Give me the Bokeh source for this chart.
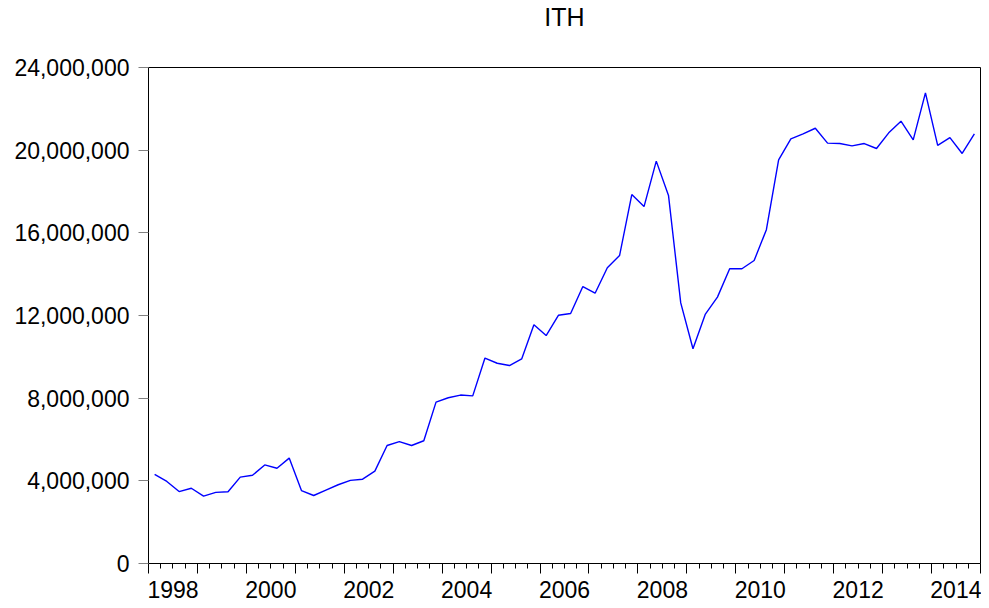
from bokeh.plotting import figure
from bokeh.models import (Range1d, FixedTicker, LinearAxis, NumeralTickFormatter)
from bokeh.embed import file_html
from bokeh.resources import INLINE

# Quarterly periods 1998Q1 .. 2014Q4
periods = [f"{y}Q{q}" for y in range(1998, 2015) for q in range(1, 5)]

# ITH values
ith = [
    4310000, 3970000, 3480000, 3640000, 3260000, 3440000, 3470000, 4180000,
    4270000, 4770000, 4610000, 5100000, 3530000, 3290000, 3550000, 3810000,
    4020000, 4080000, 4470000, 5710000, 5900000, 5710000, 5940000, 7810000,
    8020000, 8150000, 8110000, 9940000, 9690000, 9580000, 9900000, 11550000,
    11030000, 12010000, 12100000, 13400000, 13080000, 14310000, 14900000, 17850000,
    17270000, 19470000, 17810000, 12610000, 10390000, 12050000, 12890000, 14260000,
    14260000, 14660000, 16150000, 19530000, 20550000, 20790000, 21060000, 20340000,
    20320000, 20210000, 20320000, 20080000, 20840000, 21400000, 20500000, 22770000,
    20230000, 20610000, 19840000, 20790000,
]

y_ticks = [0, 4000000, 8000000, 12000000, 16000000, 20000000, 24000000]
year_ticks = list(range(1998, 2016))
label_years = list(range(1998, 2015, 2))

# x position: middle of each quarter interval
xs = [int(p[:4]) + (int(p[5]) - 1) / 4 + 0.125 for p in periods]

FONT = "Liberation Sans"

p = figure(width=981, height=608, output_backend="svg", toolbar_location=None,
           x_range=Range1d(1998, 2015), y_range=Range1d(0, 24000000),
           x_axis_type=None, y_axis_type=None,
           min_border_left=148, min_border_right=1,
           min_border_top=67, min_border_bottom=45)

p.title.text = "ITH"
p.title.align = "center"
p.title.text_font = FONT
p.title.text_font_size = "25px"
p.title.text_font_style = "normal"
p.title.text_color = "black"
p.title.standoff = 0

p.outline_line_color = "black"
p.outline_line_width = 1
p.xgrid.visible = False
p.ygrid.visible = False
p.background_fill_color = "white"
p.border_fill_color = "white"

# invisible spacer between the frame and the title
spacer = LinearAxis(ticker=FixedTicker(ticks=[2006], minor_ticks=[]))
spacer.axis_line_color = None
spacer.major_tick_line_color = None
spacer.minor_tick_line_color = None
spacer.major_tick_out = 37
spacer.major_tick_in = 0
spacer.minor_tick_out = 0
spacer.major_label_text_font_size = "0px"
spacer.major_label_text_color = None
spacer.major_label_standoff = 0
p.add_layout(spacer, "above")

# Y axis
yax = LinearAxis(ticker=FixedTicker(ticks=y_ticks),
                 formatter=NumeralTickFormatter(format="0,0"))
yax.major_tick_out = 10
yax.major_tick_in = 0
yax.minor_tick_out = 0
yax.minor_tick_in = 0
yax.major_tick_line_color = "#808080"
yax.axis_line_color = "black"
yax.major_label_standoff = 9
yax.major_label_text_font = FONT
yax.major_label_text_font_size = "23px"
yax.major_label_text_color = "black"
p.add_layout(yax, "left")

# X axis: year ticks (long) and quarter ticks (short), labels not drawn
quarter_ticks = [y + q / 4 for y in range(1998, 2015) for q in range(1, 4)]
xax = LinearAxis(ticker=FixedTicker(ticks=year_ticks, minor_ticks=quarter_ticks))
xax.major_tick_out = 10
xax.major_tick_in = 0
xax.minor_tick_out = 5
xax.minor_tick_in = 0
xax.major_tick_line_color = "black"
xax.minor_tick_line_color = "black"
xax.axis_line_color = "black"
xax.major_label_text_font_size = "0px"
xax.major_label_text_color = None
xax.major_label_standoff = 0
p.add_layout(xax, "below")

# X axis labels centred in the year intervals
lab_pos = [y + 0.5 for y in label_years]
xlab = LinearAxis(ticker=FixedTicker(ticks=lab_pos, minor_ticks=[]))
xlab.major_label_overrides = {y + 0.5: str(y) for y in label_years}
xlab.axis_line_color = None
xlab.major_tick_line_color = None
xlab.minor_tick_line_color = None
xlab.major_tick_out = 0
xlab.major_tick_in = 0
xlab.major_label_standoff = 7
xlab.major_label_text_font = FONT
xlab.major_label_text_font_size = "23px"
xlab.major_label_text_color = "black"
p.add_layout(xlab, "below")

p.line(xs, ith, line_color="#0000FF", line_width=1.4)

open("out.html", "w").write(file_html(p, INLINE))
